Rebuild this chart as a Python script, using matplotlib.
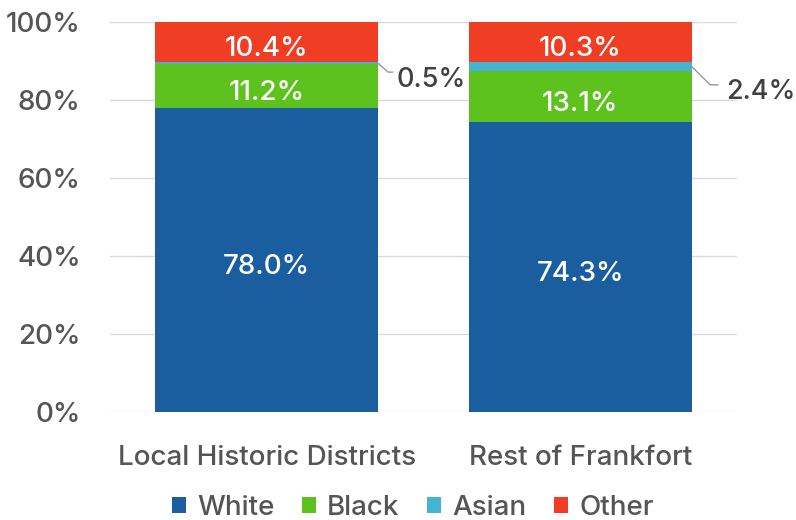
import matplotlib
matplotlib.use("Agg")
import matplotlib.pyplot as plt
import numpy as np

plt.rcParams['font.family'] = ['Inter', 'DejaVu Sans']
plt.rcParams['font.weight'] = 'medium'

categories = ['Local Historic Districts', 'Rest of Frankfort']
groups = ['White', 'Black', 'Asian', 'Other']
white = [78.0, 74.3]
black = [11.2, 13.1]
asian = [0.5, 2.4]
other = [10.4, 10.3]
colors = ['#1B5EA0', '#5EC21E', '#45B4D3', '#EF3E24']
grey = '#555555'
fs = 20

fig = plt.figure(figsize=(7.96, 5.2), dpi=100)
ax = fig.add_axes([0.138, 0.2077, 0.788, 0.75])

x = np.arange(len(categories))
width = 0.71
bottom = np.zeros(len(categories))
series = [white, black, asian, other]
for name, vals, c in zip(groups, series, colors):
    vals = np.array(vals)
    ax.bar(x, vals, width, bottom=bottom, color=c, label=name, zorder=2)
    for i, v in enumerate(vals):
        if v > 5:
            ax.text(x[i], bottom[i] + v / 2 - 1.0, f'{v:.1f}%', color='white',
                    ha='center', va='center_baseline', fontsize=fs, zorder=3)
    bottom += vals

# leader labels for the thin Asian segments
base = np.array(white) + np.array(black)
for i, v in enumerate(asian):
    ymid = base[i] + v / 2
    x0 = x[i] + width / 2
    yend = ymid - 2.3 if i == 0 else ymid - 4.7
    dx = 0.032 if i == 0 else 0.059
    ax.plot([x0, x0 + dx, x0 + dx + 0.015 + 0.01 * i], [ymid, yend, yend],
            color='#999999', lw=1, clip_on=False, zorder=3)
    ax.text(x0 + dx + 0.028 + 0.022 * i, yend - 1.2, f'{v:.1f}%', color='#404040',
            ha='left', va='center_baseline', fontsize=fs - 0.5, clip_on=False)

ax.set_xlim(-0.5, 1.5)
ax.set_ylim(0, 100)
ax.set_yticks([0, 20, 40, 60, 80, 100])
ax.set_yticklabels([f'{t}%' for t in [0, 20, 40, 60, 80, 100]])
ax.set_xticks(x)
ax.set_xticklabels(categories)
ax.tick_params(axis='y', length=0, pad=21, labelsize=fs, labelcolor=grey)
ax.tick_params(axis='x', length=0, pad=24, labelsize=fs, labelcolor=grey)
ax.grid(axis='y', color='#D9D9D9', lw=1, zorder=0)
for s in ax.spines.values():
    s.set_visible(False)

ax.legend(loc='center', bbox_to_anchor=(0.483, -0.246), ncol=4, frameon=False,
          fontsize=fs, labelcolor=grey, handlelength=0.5, handleheight=0.5,
          handletextpad=0.4, columnspacing=1.0, borderaxespad=0)

fig.savefig('out.png', dpi=100)
